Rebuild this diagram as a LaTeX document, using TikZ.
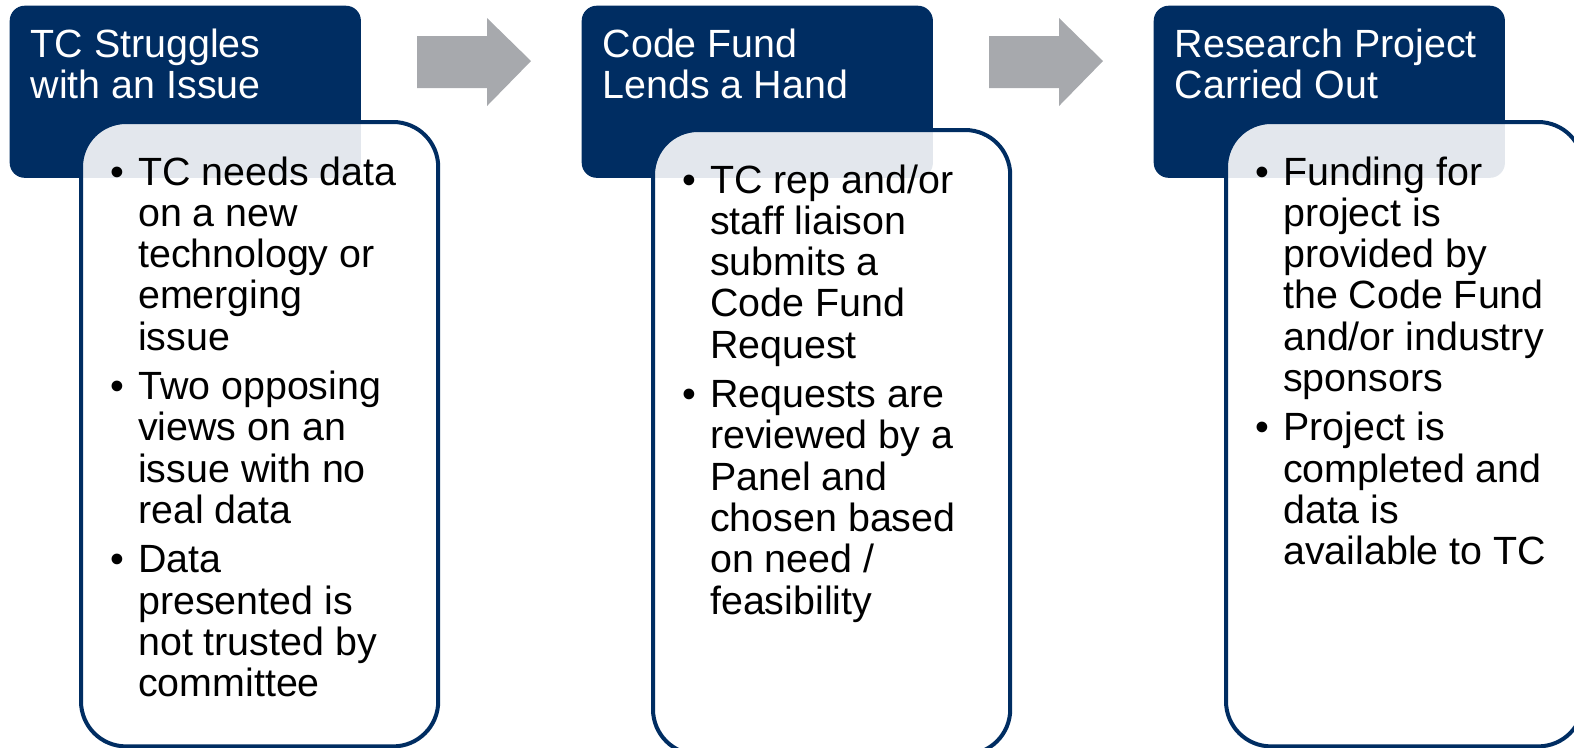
\documentclass[tikz,border=0pt]{standalone}
\usepackage{fontspec}
\setmainfont{Liberation Sans}
\definecolor{navy}{HTML}{002D62}
\definecolor{arrowgrey}{HTML}{A7A9AD}
\tikzset{
  headbox/.style={fill=navy,rounded corners=0.15cm,anchor=north west,inner sep=0pt,minimum width=3.51cm,minimum height=1.72cm},
  bodybox/.style={draw=navy,line width=0.04cm,fill=white,fill opacity=0.89,rounded corners=0.45cm,anchor=north west,inner sep=0pt,minimum width=3.57cm,minimum height=6.24cm},
  headtext/.style={text=white,anchor=base west,inner sep=0pt,font=\fontsize{11.2}{11.75}\selectfont},
  bodytext/.style={text=black,anchor=base west,inner sep=0pt,font=\fontsize{11.2}{11.75}\selectfont},
}
\newcommand{\itemgap}{\hspace{0.137cm}}

\begin{document}
\begin{tikzpicture}[x=0.01cm,y=-0.01cm]
  \useasboundingbox (0,0) rectangle (1574,747);
  \clip (0,0) rectangle (1574,747);
  % headers
  \node[headbox] (hd1) at (9,5) {};
  \node[headbox] (hd2) at (581,5) {};
  \node[headbox] (hd3) at (1153,5) {};
  \node[headtext] (hd1t) at (30,57) {\begin{tabular}[t]{@{}l@{}}TC Struggles\\with an Issue\end{tabular}};
  \node[headtext] (hd2t) at (602,57) {\begin{tabular}[t]{@{}l@{}}Code Fund\\Lends a Hand\end{tabular}};
  \node[headtext] (hd3t) at (1174,57) {\begin{tabular}[t]{@{}l@{}}Research Project\\Carried Out\end{tabular}};
  % bodies
  \node[bodybox] (bd1) at (79,120) {};
  \node[bodybox] (bd2) at (651,128) {};
  \node[bodybox] (bd3) at (1224,120) {};
  \node[bodytext] (bd1t) at (110,185) {\begin{tabular}[t]{@{}l@{\itemgap}l@{}}
    \textbullet & TC needs data\\ & on a new\\ & technology or\\ & emerging\\ & issue\\[0.08cm]
    \textbullet & Two opposing\\ & views on an\\ & issue with no\\ & real data\\[0.08cm]
    \textbullet & Data\\ & presented is\\ & not trusted by\\ & committee
  \end{tabular}};
  \node[bodytext] (bd2t) at (682,193) {\begin{tabular}[t]{@{}l@{\itemgap}l@{}}
    \textbullet & TC rep and/or\\ & staff liaison\\ & submits a\\ & Code Fund\\ & Request\\[0.08cm]
    \textbullet & Requests are\\ & reviewed by a\\ & Panel and\\ & chosen based\\ & on need /\\ & feasibility
  \end{tabular}};
  \node[bodytext] (bd3t) at (1255,185) {\begin{tabular}[t]{@{}l@{\itemgap}l@{}}
    \textbullet & Funding for\\ & project is\\ & provided by\\ & the Code Fund\\ & and/or industry\\ & sponsors\\[0.08cm]
    \textbullet & Project is\\ & completed and\\ & data is\\ & available to TC
  \end{tabular}};
  % arrows between steps
  \foreach \dx in {0,572}
    \fill[arrowgrey] (417+\dx,36) -- (487+\dx,36) -- (487+\dx,18) -- (531+\dx,61)
      -- (487+\dx,106) -- (487+\dx,88) -- (417+\dx,88) -- cycle;
\end{tikzpicture}
\end{document}
